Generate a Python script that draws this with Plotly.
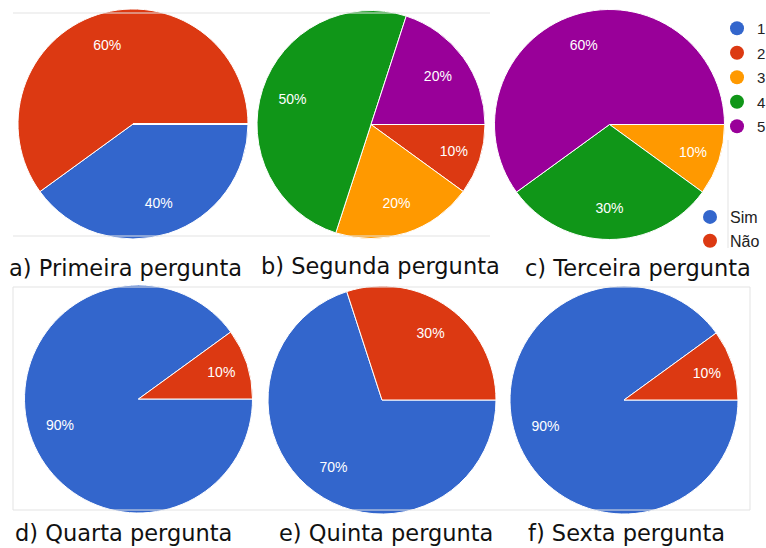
import plotly.graph_objects as go

W, H = 766, 548

# ---- data ----
scale_labels = ["1", "2", "3", "4", "5"]
scale_colors = ["#3366CC", "#DC3912", "#FF9900", "#109618", "#990099"]
q1_values = [4, 6, 0, 0, 0]
q2_values = [0, 1, 2, 5, 2]
q3_values = [0, 0, 1, 3, 6]

yn_labels = ["Sim", "Não"]
yn_colors = ["#3366CC", "#DC3912"]
q4_values = [9, 1]
q5_values = [7, 3]
q6_values = [9, 1]

captions = ["a) Primeira pergunta", "b) Segunda pergunta", "c) Terceira pergunta",
            "d) Quarta pergunta", "e) Quinta pergunta", "f) Sexta pergunta"]


def dom(cx, cy, r):
    return dict(x=[(cx - r) / W, (cx + r) / W], y=[1 - (cy + r) / H, 1 - (cy - r) / H])


fig = go.Figure()

pies = [
    (scale_labels, q1_values, scale_colors, dom(133, 124, 115)),
    (scale_labels, q2_values, scale_colors, dom(371, 124.5, 114)),
    (scale_labels, q3_values, scale_colors, dom(609.5, 124.5, 115)),
    (yn_labels, q4_values, yn_colors, dom(138.5, 399, 114)),
    (yn_labels, q5_values, yn_colors, dom(382, 400, 114)),
    (yn_labels, q6_values, yn_colors, dom(624, 400, 114)),
]

for labels, values, colors, d in pies:
    # filled pie
    fig.add_trace(go.Pie(
        labels=labels, values=values, sort=False,
        direction="clockwise", rotation=90,
        marker=dict(colors=colors, line=dict(color="white", width=1)),
        textinfo="none",
        hoverinfo="label+percent",
        showlegend=False, domain=d, automargin=False,
    ))
    # transparent ring carrying the percent labels (places them at ~0.72 r)
    fig.add_trace(go.Pie(
        labels=labels, values=values, sort=False,
        direction="clockwise", rotation=90, hole=0.45,
        marker=dict(colors=["rgba(0,0,0,0)"] * len(labels),
                    line=dict(color="rgba(0,0,0,0)", width=0)),
        textinfo="percent", textposition="inside",
        insidetextorientation="horizontal",
        texttemplate="%{percent:.0%}",
        textfont=dict(family="Arial, Liberation Sans", size=14, color="white"),
        hoverinfo="skip",
        showlegend=False, domain=d, automargin=False,
    ))

# legend entries (circle markers)
for lab, col in zip(scale_labels, scale_colors):
    fig.add_trace(go.Scatter(
        x=[None], y=[None], mode="markers", name=lab,
        marker=dict(color=col, size=14, symbol="circle"),
        legend="legend", legendgroup="s" + lab, showlegend=True,
    ))
for lab, col in zip(yn_labels, yn_colors):
    fig.add_trace(go.Scatter(
        x=[None], y=[None], mode="markers", name=lab,
        marker=dict(color=col, size=14, symbol="circle"),
        legend="legend2", legendgroup="y" + lab, showlegend=True,
    ))

caption_pos = [(126, 268), (380, 266), (638, 268), (123, 533), (386, 533), (626, 533)]
annotations = []
for text, (cx, cy) in zip(captions, caption_pos):
    annotations.append(dict(
        text=text, x=cx / W, y=1 - cy / H, xref="paper", yref="paper",
        xanchor="center", yanchor="middle", showarrow=False,
        font=dict(family="DejaVu Sans", size=22.5, color="#111111"),
    ))

line_col = "#e3e3e3"
shapes = [
    dict(type="line", xref="paper", yref="paper", x0=13 / W, x1=490 / W,
         y0=1 - 13 / H, y1=1 - 13 / H, line=dict(color=line_col, width=1)),
    dict(type="line", xref="paper", yref="paper", x0=13 / W, x1=490 / W,
         y0=1 - 236 / H, y1=1 - 236 / H, line=dict(color=line_col, width=1)),
    dict(type="line", xref="paper", yref="paper", x0=728 / W, x1=728 / W,
         y0=1 - 140 / H, y1=1 - 248 / H, line=dict(color=line_col, width=1)),
    dict(type="rect", xref="paper", yref="paper", x0=13 / W, x1=750 / W,
         y0=1 - 510 / H, y1=1 - 287 / H, line=dict(color=line_col, width=1)),
]

fig.update_layout(
    width=W, height=H,
    margin=dict(l=0, r=0, t=0, b=0, pad=0, autoexpand=False),
    paper_bgcolor="white", plot_bgcolor="white",
    xaxis=dict(visible=False), yaxis=dict(visible=False),
    annotations=annotations, shapes=shapes,
    legend=dict(x=717 / W, y=1 - 12 / H, xanchor="left", yanchor="top",
                font=dict(family="Arial, Liberation Sans", size=15, color="#222222"),
                tracegroupgap=2, bgcolor="rgba(0,0,0,0)", itemwidth=30),
    legend2=dict(x=690 / W, y=1 - 200 / H, xanchor="left", yanchor="top",
                 font=dict(family="Arial, Liberation Sans", size=16, color="#222222"),
                 tracegroupgap=0, bgcolor="rgba(0,0,0,0)", itemwidth=30),
)

fig.write_html("out.html", config={"displayModeBar": False},
               post_script="document.body.style.margin='0';document.body.style.overflow='hidden';")
